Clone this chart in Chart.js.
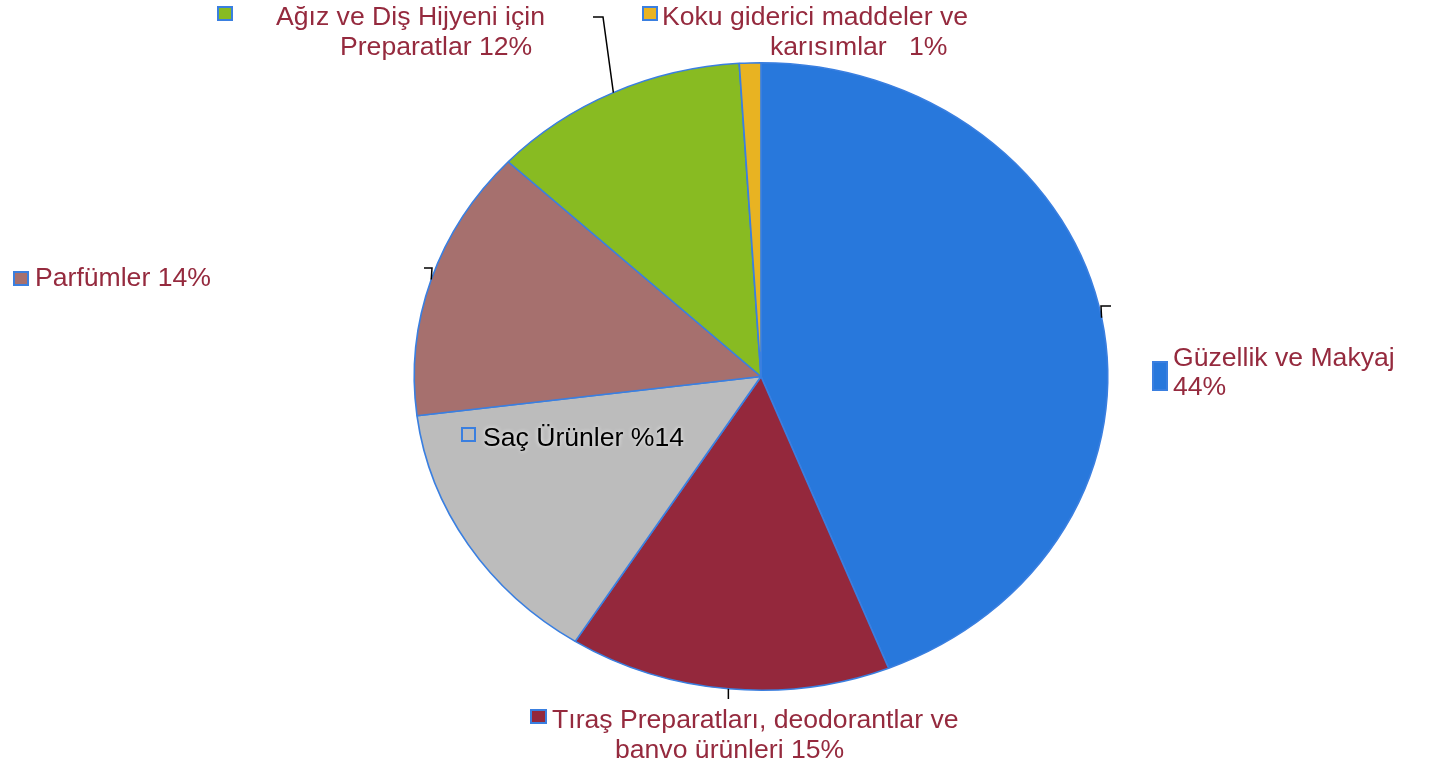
<!DOCTYPE html>
<html>
<head>
<meta charset="utf-8">
<script src="https://cdn.jsdelivr.net/npm/chart.js@4"></script>
<style>
  html, body { margin: 0; padding: 0; background: #fff; }
  #wrap { width: 1455px; height: 767px; position: relative; }
</style>
</head>
<body>
<div id="wrap"><canvas id="myChart" width="1455" height="767"></canvas></div>
<script>
// chart data
const categories = [
    ['Güzellik ve Makyaj', '44%'],
    ['Tıraş Preparatları, deodorantlar ve', 'banvo ürünleri 15%'],
    ['Saç Ürünler %14'],
    ['Parfümler 14%'],
    ['Ağız ve Diş Hijyeni için', 'Preparatlar 12%'],
    ['Koku giderici maddeler ve', 'karısımlar   1%']
];
const shares = [44, 15, 14, 14, 12, 1];
const sliceColors = ['#2878DC', '#94283C', '#BCBCBC', '#A6706E', '#88BB22', '#E8B322'];

const xStretch = 347 / 314;
const textRed = '#952A3E';

// label layout: marker box, text lines, leader line points
const labelLayout = [
    { box: [1153, 362, 14, 28], lines: [[1173, 359], [1173, 388]], leader: [[1101, 306], [1111, 306]] },
    { box: [531, 710, 15, 13], lines: [[552, 721], [615, 751]], leader: [[728, 699]] },
    { box: [462, 428, 13, 13], lines: [[483, 439]], color: '#000', hollow: true },
    { box: [14, 272, 14, 13], lines: [[35, 279]], leader: [[432, 268], [424, 268]] },
    { box: [218, 7, 14, 13], lines: [[276, 18], [340, 48]], leader: [[603, 17], [593, 17]] },
    { box: [643, 7, 14, 13], lines: [[662, 18], [770, 48]] }
];

const stretchPlugin = {
    id: 'stretch',
    beforeDatasetsDraw(chart) {
        const ctx = chart.ctx;
        const arc = chart.getDatasetMeta(0).data[0];
        ctx.save();
        ctx.translate(arc.x, 0);
        ctx.scale(xStretch, 1);
        ctx.translate(-arc.x, 0);
    },
    afterDatasetsDraw(chart) {
        chart.ctx.restore();
    }
};

const labelPlugin = {
    id: 'labels',
    afterDraw(chart) {
        const ctx = chart.ctx;
        const meta = chart.getDatasetMeta(0);
        ctx.save();
        ctx.font = '26.6px "Liberation Sans", Arial, sans-serif';
        ctx.textBaseline = 'middle';
        meta.data.forEach((arc, i) => {
            const lay = labelLayout[i];
            // leader line from slice edge
            if (lay.leader) {
                const mid = (arc.startAngle + arc.endAngle) / 2;
                const ex = arc.x + Math.cos(mid) * arc.outerRadius * xStretch;
                const ey = arc.y + Math.sin(mid) * arc.outerRadius;
                ctx.strokeStyle = '#000';
                ctx.lineWidth = 1.5;
                ctx.beginPath();
                ctx.moveTo(ex, ey);
                if (lay.leader.length === 1) {
                    ctx.lineTo(ex, lay.leader[0][1]);
                } else {
                    ctx.lineTo(lay.leader[0][0], lay.leader[0][1]);
                    ctx.lineTo(lay.leader[1][0], lay.leader[1][1]);
                }
                ctx.stroke();
            }
            // marker
            const b = lay.box;
            ctx.fillStyle = lay.hollow ? 'rgba(0,0,0,0)' : sliceColors[i];
            ctx.fillRect(b[0], b[1], b[2], b[3]);
            ctx.strokeStyle = '#3A7FE0';
            ctx.lineWidth = 2;
            ctx.strokeRect(b[0], b[1], b[2], b[3]);
            // text
            ctx.fillStyle = lay.color || textRed;
            if (lay.hollow) {
                ctx.shadowColor = 'rgba(255,255,255,0.9)';
                ctx.shadowBlur = 4;
            }
            categories[i].forEach((t, k) => {
                ctx.fillText(t, lay.lines[k][0], lay.lines[k][1]);
            });
            ctx.shadowBlur = 0;
        });
        ctx.restore();
    }
};

const ctx = document.getElementById('myChart').getContext('2d');
new Chart(ctx, {
    type: 'pie',
    data: {
        labels: categories.map(c => c.join(' ')),
        datasets: [{
            data: shares,
            backgroundColor: sliceColors,
            borderColor: '#3A7FE0',
            borderWidth: 1.5
        }]
    },
    options: {
        responsive: false,
        animation: false,
        layout: {
            padding: { top: 62, bottom: 76, left: 400, right: 333 }
        },
        plugins: {
            legend: { display: false },
            tooltip: { enabled: false },
            title: { display: false }
        }
    },
    plugins: [stretchPlugin, labelPlugin]
});
</script>
</body>
</html>
